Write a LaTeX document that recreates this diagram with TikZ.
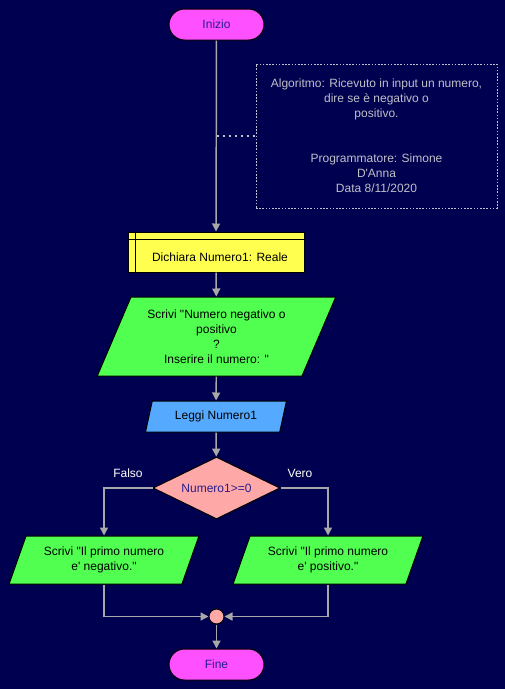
\documentclass[tikz,border=0pt]{standalone}
\usepackage{fontspec}
\setmainfont{Liberation Sans}[Ligatures=TeXOff]
\usetikzlibrary{shapes.geometric,arrows.meta}
\definecolor{bg}{RGB}{0,0,80}
\definecolor{termfill}{RGB}{255,80,255}
\definecolor{declfill}{RGB}{255,255,80}
\definecolor{outfill}{RGB}{80,255,80}
\definecolor{infill}{RGB}{85,170,255}
\definecolor{condfill}{RGB}{255,168,168}
\definecolor{ink}{RGB}{40,30,140}
\definecolor{wire}{RGB}{168,168,168}
\definecolor{notegrey}{RGB}{192,192,200}
\begin{document}
\begin{tikzpicture}[x=0.75pt,y=-0.75pt]
\tikzstyle{every node}+=[inner sep=0pt,font=\fontsize{9}{11.25}\selectfont,align=center]
\tikzstyle{term}=[draw=black,line width=0.75pt,fill=termfill,text=ink,rounded corners=11.6pt,minimum width=71.25pt,minimum height=23.25pt]
\tikzstyle{decl}=[draw=black,line width=0.75pt,fill=declfill,minimum width=132pt,minimum height=30pt]
\tikzstyle{io}=[draw=black,line width=0.75pt,trapezium,trapezium stretches=true]
\tikzstyle{cond}=[draw=black,line width=0.75pt,fill=condfill,text=ink,diamond,aspect=2,minimum width=95.25pt,minimum height=46.5pt]
\tikzstyle{flow}=[draw=wire,line width=1.1pt,-{Triangle[length=6pt,width=6pt]}]
\tikzstyle{wire}=[draw=wire,line width=1.1pt]
\useasboundingbox (0,0) rectangle (505,689);
\fill [bg] (0,0) rectangle (505,689);
\node [term] (ini) at (216.5,24.5) {Inizio};
\node [draw=notegrey,line width=0.6pt,dash pattern=on 1.2pt off 1.2pt,text=notegrey,minimum width=180.75pt,minimum height=108pt] (note) at (376.5,136) {Algoritmo: Ricevuto in input un numero,\\dire se è negativo o\\positivo.\\[22.5pt]Programmatore: Simone\\D'Anna\\Data 8/11/2020};
\node [decl] (dich) at (216,252) {\hspace*{6pt}\rule{0pt}{14pt}Dichiara Numero1: Reale};
\draw [line width=0.75pt] ([xshift=6pt]dich.north west) -- ([xshift=6pt]dich.south west);
\draw [line width=0.75pt] ([yshift=-6pt]dich.north west) -- ([yshift=-6pt]dich.north east);
\node [io,fill=outfill,trapezium left angle=63.1,trapezium right angle=116.9,minimum width=179.25pt,minimum height=59.25pt] (scr) at (216.5,336.5) {Scrivi "Numero negativo o\\positivo\\?\\Inserire il numero: "};
\node [io,fill=infill,trapezium left angle=68.8,trapezium right angle=111.2,minimum width=106.5pt,minimum height=23.25pt] (leg) at (216,416.5) {Leggi Numero1};
\node [cond] (test) at (216.5,488) {Numero1>=0};
\node [text=white] (falso) at (128,473) {Falso};
\node [text=white] (vero) at (300,473) {Vero};
\node [io,fill=outfill,trapezium left angle=63.4,trapezium right angle=116.6,minimum width=142.5pt,minimum height=36pt] (neg) at (104,560) {Scrivi "Il primo numero\\e' negativo."};
\node [io,fill=outfill,trapezium left angle=63.4,trapezium right angle=116.6,minimum width=142.5pt,minimum height=36pt] (pos) at (328,560) {Scrivi "Il primo numero\\e' positivo."};
\node [circle,draw=black,line width=0.75pt,fill=condfill,minimum size=11.25pt] (join) at (216.5,616.5) {};
\node [term] (fine) at (216.5,664.5) {Fine};
\coordinate (tap) at (216.5,136);
\draw [flow] (ini) -- (dich);
\draw [draw=notegrey,line width=1.5pt,dash pattern=on 1.5pt off 3pt] (tap) -- (note.west);
\draw [flow] (dich) -- (scr);
\draw [flow] (scr) -- (leg);
\draw [flow] (leg) -- (test);
\draw [flow] (test.west) -| (neg.north);
\draw [flow] (test.east) -| (pos.north);
\draw [flow] (neg.south) |- (join.west);
\draw [flow] (pos.south) |- (join.east);
\draw [flow] (join) -- (fine);
\end{tikzpicture}
\end{document}
